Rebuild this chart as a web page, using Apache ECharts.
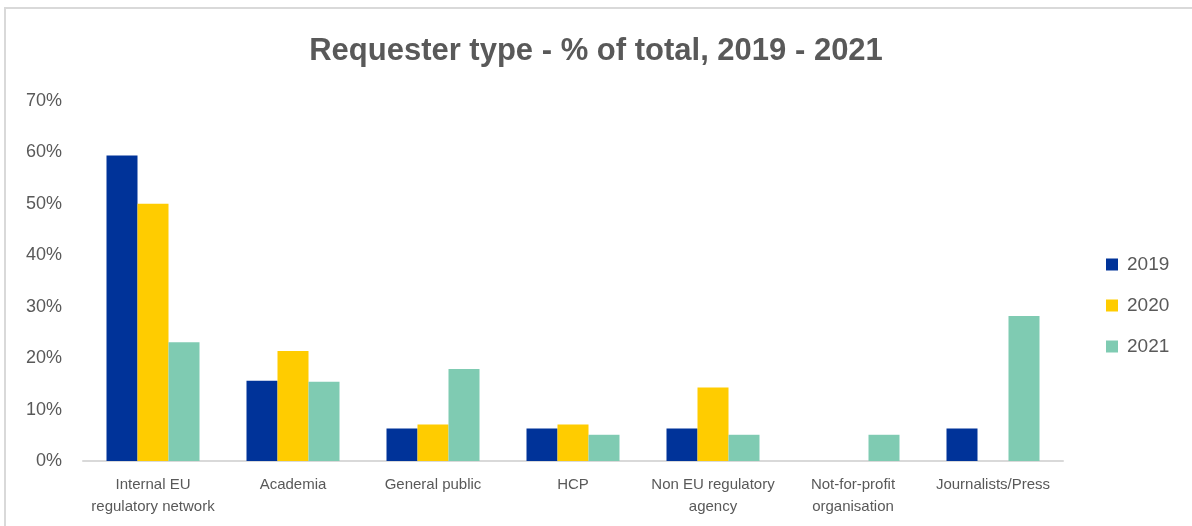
<!DOCTYPE html>
<html>
<head>
<meta charset="utf-8">
<script src="https://cdn.jsdelivr.net/npm/echarts@6/dist/echarts.min.js"></script>
<style>
  html, body { margin: 0; padding: 0; background: #fff; }
  #frame {
    position: absolute; left: 4px; top: 7px; width: 1220px; height: 560px;
    border: 2px solid #d9d9d9; box-sizing: border-box;
  }
  #reqChart { position: absolute; left: 0; top: 0; width: 1192px; height: 526px; }
</style>
</head>
<body>
<div id="frame"></div>
<div id="reqChart"></div>
<script>
// categories (x axis)
var categories = [
  'Internal EU\nregulatory network',
  'Academia',
  'General public',
  'HCP',
  'Non EU regulatory\nagency',
  'Not-for-profit\norganisation',
  'Journalists/Press'
];
// share of total, %
var y2019 = [59.4, 15.6, 6.3, 6.3, 6.3, 0, 6.3];
var y2020 = [50.0, 21.4, 7.1, 7.1, 14.3, 0, 0];
var y2021 = [23.1, 15.4, 17.9, 5.1, 5.1, 5.1, 28.2];
var seriesNames = ['2019', '2020', '2021'];
var colors = ['#003399', '#ffcc00', '#7fcbb2'];

var fontFam = "'Liberation Sans', Arial, sans-serif";
var txt = '#595959';

var chart = echarts.init(document.getElementById('reqChart'));

var options = {
  color: colors,
  title: {
    text: 'Requester type - % of total, 2019 - 2021',
    left: 'center',
    top: 31,
    textStyle: { fontFamily: fontFam, fontSize: 31, fontWeight: 'bold', color: txt }
  },
  legend: {
    orient: 'vertical',
    left: 1101,
    top: 250,
    itemWidth: 12,
    itemHeight: 12,
    itemGap: 22,
    icon: 'rect',
    textStyle: { fontFamily: fontFam, fontSize: 19, color: txt, padding: [0, 0, 0, 4] },
    data: seriesNames
  },
  grid: { left: 83, right: 129, top: 101, bottom: 65, containLabel: false },
  xAxis: {
    type: 'category',
    data: categories,
    axisLine: { show: true, lineStyle: { color: '#d9d9d9', width: 2 } },
    axisTick: { show: false },
    axisLabel: {
      interval: 0,
      margin: 13,
      fontFamily: fontFam,
      fontSize: 15,
      lineHeight: 22,
      color: txt
    }
  },
  yAxis: {
    type: 'value',
    min: 0,
    max: 70,
    interval: 10,
    axisLine: { show: false },
    axisTick: { show: false },
    splitLine: { show: false },
    axisLabel: {
      formatter: '{value}%',
      margin: 21,
      fontFamily: fontFam,
      fontSize: 18,
      color: txt
    }
  },
  series: [
    { name: seriesNames[0], type: 'bar', data: y2019, barWidth: 31, barGap: '0%' },
    { name: seriesNames[1], type: 'bar', data: y2020, barWidth: 31, barGap: '0%' },
    { name: seriesNames[2], type: 'bar', data: y2021, barWidth: 31, barGap: '0%' }
  ]
};
chart.setOption(options);
</script>
</body>
</html>
